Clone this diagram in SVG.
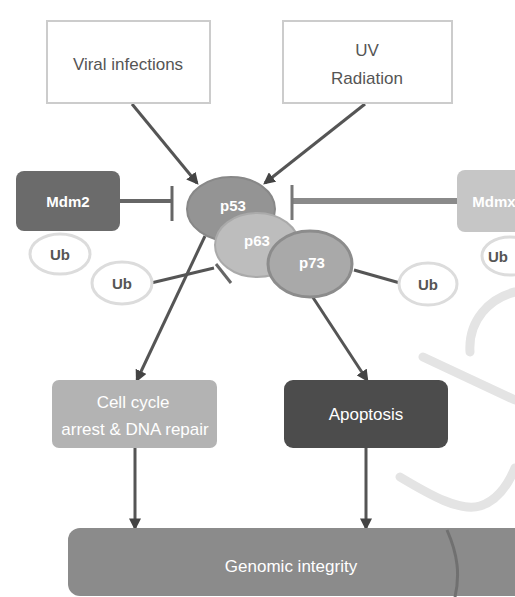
<svg xmlns="http://www.w3.org/2000/svg" width="515" height="597" viewBox="0 0 515 597">
<style>
text{font-family:"Liberation Sans",Arial,sans-serif;text-anchor:middle;dominant-baseline:central}
.w{fill:#fff}
.d{fill:#555}
.lbl{font-size:17px}
.sm{font-size:15px;font-weight:bold}
.con{stroke:#555;stroke-width:3;fill:none}
.wm{stroke:#e4e4e4;stroke-width:9;fill:none;stroke-linecap:round}
.ub{fill:#fff;stroke:#dcdcdc;stroke-width:3}
</style>
<defs>
<marker id="ah" viewBox="0 0 10 10" refX="8" refY="5" markerWidth="4" markerHeight="4" orient="auto"><path d="M0,0 L10,5 L0,10 z" fill="#444"/></marker>
</defs>
<rect width="515" height="597" fill="#fff"/>
<g id="watermark">
<path class="wm" d="M423,357 L515,400"/>
<path class="wm" d="M470,352 C468,320 490,298 515,292"/>
<path class="wm" d="M400,477 C430,495 460,512 480,506 C500,500 510,480 515,468"/>
</g>
<g id="connectors">
<line class="con" x1="132" y1="104" x2="197" y2="183" marker-end="url(#ah)"/>
<line class="con" x1="365" y1="104" x2="265" y2="183" marker-end="url(#ah)"/>
<line x1="120" y1="201" x2="172" y2="201" stroke="#666" stroke-width="4"/>
<line x1="172" y1="186" x2="172" y2="221" stroke="#666" stroke-width="3"/>
<line x1="292" y1="201" x2="458" y2="201" stroke="#8a8a8a" stroke-width="6"/>
<line x1="292" y1="185" x2="292" y2="220" stroke="#777" stroke-width="3"/>
<line x1="151" y1="283" x2="214" y2="268" stroke="#555" stroke-width="3"/>
<line x1="216" y1="264" x2="231" y2="283" stroke="#666" stroke-width="3"/>
<line x1="400" y1="283" x2="354" y2="270" stroke="#555" stroke-width="3"/>
<line class="con" x1="205" y1="236" x2="137" y2="380" marker-end="url(#ah)"/>
<line class="con" x1="312" y1="296" x2="367" y2="380" marker-end="url(#ah)"/>
<line class="con" x1="135" y1="448" x2="135" y2="528" marker-end="url(#ah)"/>
<line class="con" x1="366" y1="448" x2="366" y2="528" marker-end="url(#ah)"/>
</g>
<g id="viral">
<rect x="47" y="21" width="163" height="82" fill="#fff" stroke="#ccc" stroke-width="2"/>
<text x="128" y="64" class="lbl d" font-size="18">Viral infections</text>
</g>
<g id="uv">
<rect x="283" y="21" width="169" height="82" fill="#fff" stroke="#ccc" stroke-width="2"/>
<text x="367" y="50" class="lbl d">UV</text>
<text x="367" y="78" class="lbl d">Radiation</text>
</g>
<g id="mdm2">
<rect x="16" y="171" width="104" height="60" rx="8" fill="#6b6b6b"/>
<text x="68" y="201" class="sm w">Mdm2</text>
</g>
<g id="mdmx">
<rect x="457" y="170" width="70" height="62" rx="8" fill="#c6c6c6"/>
<text x="494" y="201" class="sm w" text-anchor="start">Mdmx</text>
</g>
<g id="ub1"><ellipse cx="60" cy="254" rx="30" ry="20" class="ub"/><text x="60" y="254" class="sm d">Ub</text></g>
<g id="ub2"><ellipse cx="122" cy="283" rx="30" ry="21" class="ub"/><text x="122" y="283" class="sm d">Ub</text></g>
<g id="ub3"><ellipse cx="428" cy="284" rx="29" ry="21" class="ub"/><text x="428" y="284" class="sm d">Ub</text></g>
<g id="ub4"><ellipse cx="510" cy="256" rx="28" ry="19" class="ub"/><text x="498" y="256" class="sm d" text-anchor="start">Ub</text></g>
<g id="p53">
<ellipse cx="231" cy="209" rx="44" ry="32" fill="#949494" stroke="#888" stroke-width="2"/>
<text x="233" y="205" class="sm w">p53</text>
</g>
<g id="p63">
<ellipse cx="257" cy="245" rx="42" ry="32" fill="#bdbdbd" stroke="#aaa" stroke-width="2"/>
<text x="257" y="240" class="sm w">p63</text>
</g>
<g id="p73">
<ellipse cx="310" cy="264" rx="42" ry="33" fill="#a9a9a9" stroke="#8c8c8c" stroke-width="3"/>
<text x="312" y="262" class="sm w">p73</text>
</g>
<g id="cellcycle">
<rect x="52" y="380" width="165" height="68" rx="7" fill="#b3b3b3"/>
<text x="133" y="402" class="lbl w">Cell cycle</text>
<text x="135" y="429" class="lbl w">arrest &amp; DNA repair</text>
</g>
<g id="apoptosis">
<rect x="284" y="380" width="164" height="68" rx="9" fill="#4c4c4c"/>
<text x="366" y="414" class="lbl w" font-size="19">Apoptosis</text>
</g>
<g id="genomic">
<rect x="68" y="528" width="460" height="68" rx="12" fill="#8b8b8b"/>
<path d="M447,530 C458,555 460,575 455,597" stroke="#707070" stroke-width="3" fill="none"/>
<text x="291" y="566" class="lbl w" font-size="20">Genomic integrity</text>
</g>
</svg>
